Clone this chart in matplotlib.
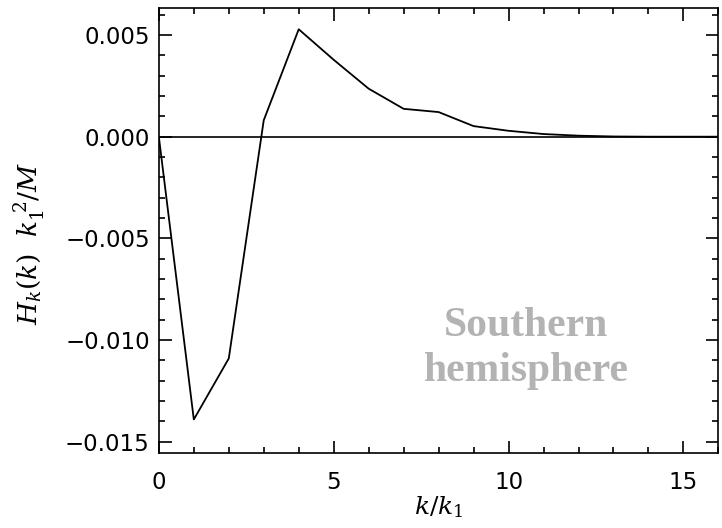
import matplotlib
matplotlib.use("Agg")
import matplotlib.pyplot as plt
from matplotlib.ticker import MultipleLocator, FuncFormatter

k = [0, 1, 2, 3, 4, 5, 6, 7, 8, 9, 10, 11, 12, 13, 14, 15, 16]
H = [0.0, -0.0139, -0.0109, 0.00081, 0.00528, 0.00378, 0.00236, 0.00137,
     0.00121, 0.00052, 0.00029, 0.00013, 0.00005, 0.00001, 0.0, 0.0, 0.0]

plt.rcParams['font.family'] = ['DejaVu Sans']
plt.rcParams['mathtext.fontset'] = 'dejavuserif'

fig = plt.figure(figsize=(7.22, 5.28), dpi=100)
ax = fig.add_axes([0.220, 0.142, 0.775, 0.843])
ax.plot(k, H, color='black', lw=1.3)
ax.axhline(0, color='black', lw=1.2)

ax.set_xlim(0, 16)
ax.set_ylim(-0.01555, 0.00633)
ax.xaxis.set_major_locator(MultipleLocator(5))
ax.xaxis.set_minor_locator(MultipleLocator(1))
ax.yaxis.set_major_locator(MultipleLocator(0.005))
ax.yaxis.set_minor_locator(MultipleLocator(0.001))
ax.yaxis.set_major_formatter(FuncFormatter(lambda v, p: ('%.3f' % v).replace('-', '\u2212') if abs(v) > 1e-12 else '0.000'))
ax.tick_params(which='both', direction='in', top=True, right=True, labelsize=16.5, width=1.2)
ax.tick_params(axis='y', which='major', length=9, pad=6.5)
ax.tick_params(axis='x', which='major', length=9, pad=13)
ax.tick_params(which='minor', length=4.5)
for s in ax.spines.values():
    s.set_linewidth(1.2)

ax.set_xlabel(r'$k/k_1$', fontsize=18, labelpad=0)
ax.set_ylabel(r'$H_k(k)\ \ k_1^{\ 2}/M$', fontsize=19)
ax.yaxis.set_label_coords(-0.20, 0.47)

ax.text(10.5, -0.0104, 'Southern\nhemisphere', ha='center', va='center',
        fontsize=30, fontweight='bold', color='#b3b3b3',
        family=['Liberation Serif', 'DejaVu Serif'], linespacing=1.25)

fig.savefig('out.png', dpi=100)
